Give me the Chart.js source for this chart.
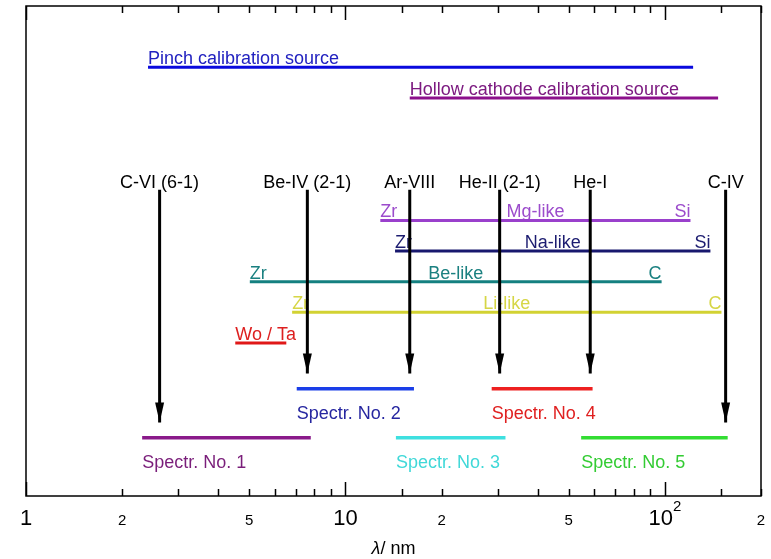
<!DOCTYPE html>
<html>
<head>
<meta charset="utf-8">
<script src="https://cdn.jsdelivr.net/npm/chart.js@4.4.1/dist/chart.umd.min.js"></script>
<style>
  html, body { margin: 0; padding: 0; background: #fff; }
  #wrap { width: 771px; height: 559px; }
</style>
</head>
<body>
<div id="wrap"><canvas id="chart" width="771" height="559"></canvas></div>
<script>
// all wavelengths in nm, rows are just stacking levels (0 = bottom)

// calibration sources
const sourceNames = ['Pinch calibration source', 'Hollow cathode calibration source'];
const sourceFrom = [2.41, 15.9];
const sourceTo = [122.6, 146.8];
const sourceRow = [14, 13];

// isoelectronic sequences (element at short / long end)
const seqNames = ['Mg-like', 'Na-like', 'Be-like', 'Li-like', ''];
const seqStart = ['Zr', 'Zr', 'Zr', 'Zr', 'Wo / Ta'];
const seqEnd = ['Si', 'Si', 'C', 'C', ''];
const seqFrom = [12.86, 14.3, 5.02, 6.81, 4.52];
const seqTo = [120.3, 138.9, 97.7, 150.4, 6.53];
const seqRow = [9, 8, 7, 6, 5];

// reference lines (arrows)
const lineNames = ['C-VI (6-1)', 'Be-IV (2-1)', 'Ar-VIII', 'He-II (2-1)', 'He-I', 'C-IV'];
const lineWl = [2.62, 7.6, 15.9, 30.4, 58.4, 155];
const lineTop = [10, 10, 10, 10, 10, 10];
const lineTip = [2.4, 4, 4, 4, 4, 2.4];

// spectrometer ranges
const specNames = ['Spectr. No. 1', 'Spectr. No. 2', 'Spectr. No. 3', 'Spectr. No. 4', 'Spectr. No. 5'];
const specFrom = [2.31, 7.04, 14.39, 28.7, 54.7];
const specTo = [7.79, 16.39, 31.7, 59.4, 157.3];
const specRow = [1.9, 3.5, 1.9, 3.5, 1.9];

// x axis labels
const tickValues = [1, 2, 5, 10, 20, 50, 100, 200];
const tickText = ['1', '2', '5', '10', '2', '5', '10^2', '2'];

// colours
const sourceColors = ['#0a0ade', '#8c108c'];
const sourceTextColors = ['#2222c0', '#7c1a80'];
const seqColors = ['#9a40cc', '#18186e', '#148080', '#d2d232', '#e01818'];
const seqTextColors = ['#9c4ccc', '#1c1c70', '#1a8080', '#d6d646', '#dd2020'];
const specColors = ['#8a1a8a', '#1a3ee8', '#3ee0e0', '#ee2020', '#33dd33'];
const specTextColors = ['#7a1e7a', '#2626a0', '#40d8d8', '#e02020', '#33cc33'];

const FONT = '"Liberation Sans", Arial, Helvetica, sans-serif';

let datasets = [];

for (let i = 0; i < sourceNames.length; i++) {
    datasets.push({
        kind: 'range',
        startLabel: sourceNames[i],
        midLabel: '',
        endLabel: '',
        textColor: sourceTextColors[i],
        data: [{x: sourceFrom[i], y: sourceRow[i]}, {x: sourceTo[i], y: sourceRow[i]}],
        borderColor: sourceColors[i],
        borderWidth: 3,
        order: 1
    });
}
for (let i = 0; i < seqNames.length; i++) {
    datasets.push({
        kind: 'range',
        startLabel: seqStart[i],
        midLabel: seqNames[i],
        endLabel: seqEnd[i],
        textColor: seqTextColors[i],
        data: [{x: seqFrom[i], y: seqRow[i]}, {x: seqTo[i], y: seqRow[i]}],
        borderColor: seqColors[i],
        borderWidth: 3,
        order: 1
    });
}
for (let i = 0; i < specNames.length; i++) {
    datasets.push({
        kind: 'spec',
        startLabel: specNames[i],
        textColor: specTextColors[i],
        data: [{x: specFrom[i], y: specRow[i]}, {x: specTo[i], y: specRow[i]}],
        borderColor: specColors[i],
        borderWidth: 3.5,
        order: 1
    });
}
for (let i = 0; i < lineNames.length; i++) {
    datasets.push({
        kind: 'arrow',
        startLabel: lineNames[i],
        textColor: '#000',
        data: [{x: lineWl[i], y: lineTop[i]}, {x: lineWl[i], y: lineTip[i]}],
        borderColor: '#000',
        borderWidth: 3,
        order: 0
    });
}

const decor = {
    id: 'decor',
    beforeDatasetsDraw(chart) {
        // text labels sit under the lines and arrows
        const ctx = chart.ctx;
        chart.data.datasets.forEach((ds, i) => {
            const pts = chart.getDatasetMeta(i).data;
            const a = pts[0], b = pts[1];
            ctx.save();
            ctx.font = '18px ' + FONT;
            ctx.fillStyle = ds.textColor;
            ctx.textBaseline = 'alphabetic';
            if (ds.kind === 'arrow') {
                ctx.textAlign = 'center';
                ctx.fillText(ds.startLabel, a.x, a.y - 2);
            } else if (ds.kind === 'spec') {
                ctx.textAlign = 'left';
                ctx.fillText(ds.startLabel, a.x, a.y + 30);
            } else {
                ctx.textAlign = 'left';
                ctx.fillText(ds.startLabel, a.x, a.y - 3);
                if (ds.midLabel) {
                    ctx.textAlign = 'center';
                    ctx.fillText(ds.midLabel, (a.x + b.x) / 2, a.y - 3);
                }
                if (ds.endLabel) {
                    ctx.textAlign = 'right';
                    ctx.fillText(ds.endLabel, b.x, a.y - 3);
                }
            }
            ctx.restore();
        });
    },
    afterDatasetsDraw(chart) {
        // arrow heads
        const ctx = chart.ctx;
        chart.data.datasets.forEach((ds, i) => {
            if (ds.kind !== 'arrow') return;
            const tip = chart.getDatasetMeta(i).data[1];
            ctx.save();
            ctx.fillStyle = '#000';
            ctx.beginPath();
            ctx.moveTo(tip.x, tip.y);
            ctx.lineTo(tip.x - 4.5, tip.y - 20);
            ctx.lineTo(tip.x + 4.5, tip.y - 20);
            ctx.closePath();
            ctx.fill();
            ctx.restore();
        });
    },
    afterDraw(chart) {
        const ctx = chart.ctx;
        const area = chart.chartArea;
        const xs = chart.scales.x;
        ctx.save();
        // frame
        ctx.strokeStyle = '#000';
        ctx.lineWidth = 1.5;
        ctx.strokeRect(area.left, area.top, area.right - area.left, area.bottom - area.top);
        // inside ticks, top and bottom
        xs.ticks.forEach(t => {
            const x = Math.round(xs.getPixelForValue(t.value)) + 0.5;
            const lg = Math.log10(t.value);
            const len = Math.abs(lg - Math.round(lg)) < 1e-6 ? 14 : 7;
            ctx.beginPath();
            ctx.moveTo(x, area.top);
            ctx.lineTo(x, area.top + len);
            ctx.moveTo(x, area.bottom);
            ctx.lineTo(x, area.bottom - len);
            ctx.stroke();
        });
        // tick labels
        ctx.fillStyle = '#000';
        ctx.textBaseline = 'alphabetic';
        ctx.textAlign = 'left';
        const base = area.bottom + 29;
        tickValues.forEach((v, i) => {
            const x = xs.getPixelForValue(v);
            const lg = Math.log10(v);
            const major = Math.abs(lg - Math.round(lg)) < 1e-6;
            const parts = tickText[i].split('^');
            ctx.font = (major ? 22 : 15) + 'px ' + FONT;
            const w0 = ctx.measureText(parts[0]).width;
            let w1 = 0;
            if (parts[1]) {
                ctx.font = '15px ' + FONT;
                w1 = ctx.measureText(parts[1]).width;
            }
            const x0 = x - (w0 + w1) / 2;
            ctx.font = (major ? 22 : 15) + 'px ' + FONT;
            ctx.fillText(parts[0], x0, base);
            if (parts[1]) {
                ctx.font = '15px ' + FONT;
                ctx.fillText(parts[1], x0 + w0, base - 14);
            }
        });
        // axis title
        const cx = (area.left + area.right) / 2;
        ctx.font = 'italic 18px ' + FONT;
        const wl = ctx.measureText('\u03bb').width;
        ctx.font = '18px ' + FONT;
        const wr = ctx.measureText('/ nm').width;
        const tx = cx - (wl + wr) / 2;
        ctx.font = 'italic 18px ' + FONT;
        ctx.fillText('\u03bb', tx, area.bottom + 58);
        ctx.font = '18px ' + FONT;
        ctx.fillText('/ nm', tx + wl, area.bottom + 58);
        ctx.restore();
    }
};

new Chart(document.getElementById('chart'), {
    type: 'line',
    data: { datasets: datasets },
    options: {
        responsive: false,
        animation: false,
        layout: { padding: { left: 26, right: 10, top: 6, bottom: 63 } },
        elements: {
            point: { radius: 0 },
            line: { tension: 0, fill: false, borderCapStyle: 'butt' }
        },
        scales: {
            x: { type: 'logarithmic', min: 1, max: 200, display: false, ticks: { autoSkip: false } },
            y: { type: 'linear', min: 0, max: 16, display: false }
        },
        plugins: {
            legend: { display: false },
            tooltip: { enabled: false }
        }
    },
    plugins: [decor]
});
</script>
</body>
</html>
